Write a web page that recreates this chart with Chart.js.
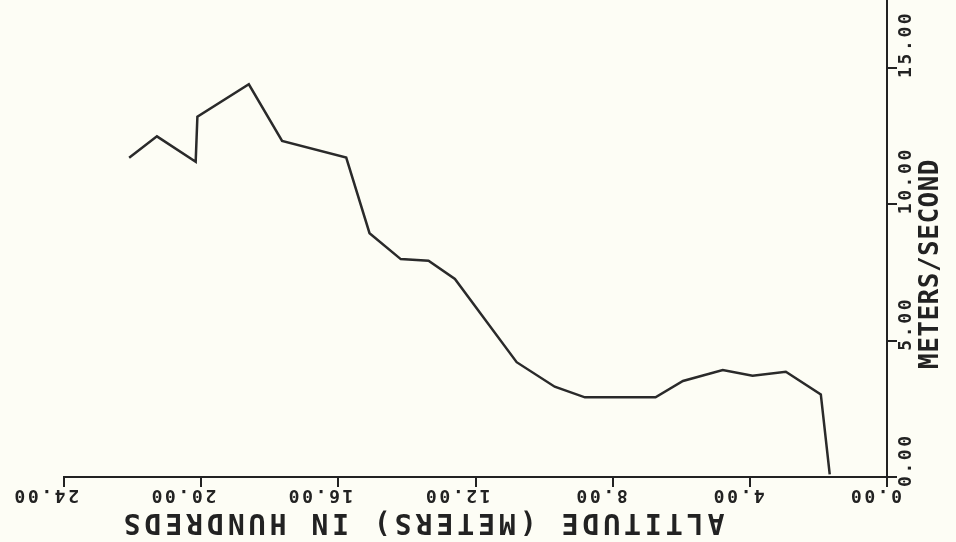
<!DOCTYPE html>
<html>
<head>
<meta charset="utf-8">
<script src="https://cdn.jsdelivr.net/npm/chart.js@4/dist/chart.umd.min.js"></script>
<style>
html,body{margin:0;padding:0;background:#fdfdf5;}
canvas{display:block;}
</style>
</head>
<body>
<canvas id="c" width="956" height="542"></canvas>
<script>
// Altitude in hundreds of meters
const altitude = [22.10,21.29,20.16,20.11,18.61,17.64,15.77,15.09,14.18,13.37,12.60,10.80,9.69,8.81,6.75,5.95,4.79,3.92,2.95,1.93,1.67];
// Speed in meters/second
const speed = [11.71,12.49,11.56,13.21,14.40,12.32,11.71,8.94,7.99,7.93,7.26,4.21,3.31,2.92,2.92,3.52,3.92,3.71,3.86,3.03,0.10];

const xTicks = [0,4,8,12,16,20,24];
const xTickLabels = ['0.00','4.00','8.00','12.00','16.00','20.00','24.00'];
const yTicks = [0,5,10,15];
const yTickLabels = ['0.00','5.00','10.00','15.00'];
const xTitle = 'ALTITUDE (METERS) IN HUNDREDS';
const yTitle = 'METERS/SECOND';

const INK = '#222222';

const labelPlugin = {
  id: 'plotterLabels',
  afterDraw(chart) {
    const ctx = chart.ctx;
    const xs = chart.scales.x, ys = chart.scales.y;
    ctx.save();
    ctx.fillStyle = INK;
    // x tick labels, upside down
    ctx.font = 'bold 18px "DejaVu Sans Mono"';
    ctx.letterSpacing = '2.6px';
    ctx.textAlign = 'left';
    ctx.textBaseline = 'middle';
    xTicks.forEach((v, i) => {
      const px = xs.getPixelForValue(v);
      ctx.save();
      ctx.translate(px + 15, 495);
      ctx.rotate(Math.PI);
      ctx.fillText(xTickLabels[i], 0, 0);
      ctx.restore();
    });
    // y tick labels, rotated
    yTicks.forEach((v, i) => {
      const py = ys.getPixelForValue(v);
      ctx.save();
      ctx.translate(906, py + 10);
      ctx.rotate(-Math.PI / 2);
      ctx.fillText(yTickLabels[i], 0, 0);
      ctx.restore();
    });
    // x title upside down
    ctx.font = 'bold 28px "DejaVu Sans Mono"';
    ctx.letterSpacing = '4px';
    ctx.textAlign = 'center';
    ctx.save();
    ctx.translate(422, 521);
    ctx.rotate(Math.PI);
    ctx.fillText(xTitle, 0, 0);
    ctx.restore();
    // y title rotated
    ctx.font = 'bold 26px "DejaVu Sans Mono"';
    ctx.letterSpacing = '0.5px';
    ctx.save();
    ctx.translate(931, 264);
    ctx.rotate(-Math.PI / 2);
    ctx.fillText(yTitle, 0, 0);
    ctx.restore();
    ctx.restore();
  }
};

const points = altitude.map((a, i) => ({x: a, y: speed[i]}));

new Chart(document.getElementById('c'), {
  type: 'scatter',
  data: {
    datasets: [{
      data: points,
      showLine: true,
      borderColor: '#2a2a2a',
      borderWidth: 2.5,
      pointRadius: 0,
      tension: 0,
      fill: false
    }]
  },
  options: {
    responsive: false,
    animation: false,
    layout: {padding: {left: 64, top: 0, right: 0, bottom: 0}},
    plugins: {legend: {display: false}, tooltip: {enabled: false}},
    scales: {
      x: {
        type: 'linear',
        reverse: true,
        min: 0, max: 24,
        afterBuildTicks: s => { s.ticks = xTicks.map(v => ({value: v})); },
        afterFit: s => { s.height = 65; },
        ticks: {display: false},
        grid: {display: true, drawOnChartArea: false, drawTicks: true, tickLength: 10, color: INK, lineWidth: 2},
        border: {display: true, color: INK, width: 2}
      },
      y: {
        type: 'linear',
        position: 'right',
        min: 0, max: 17.49,
        afterBuildTicks: s => { s.ticks = yTicks.map(v => ({value: v})); },
        afterFit: s => { s.width = 69; },
        ticks: {display: false},
        grid: {display: true, drawOnChartArea: false, drawTicks: true, tickLength: 10, color: INK, lineWidth: 2},
        border: {display: true, color: INK, width: 2}
      }
    }
  },
  plugins: [labelPlugin]
});
</script>
</body>
</html>
